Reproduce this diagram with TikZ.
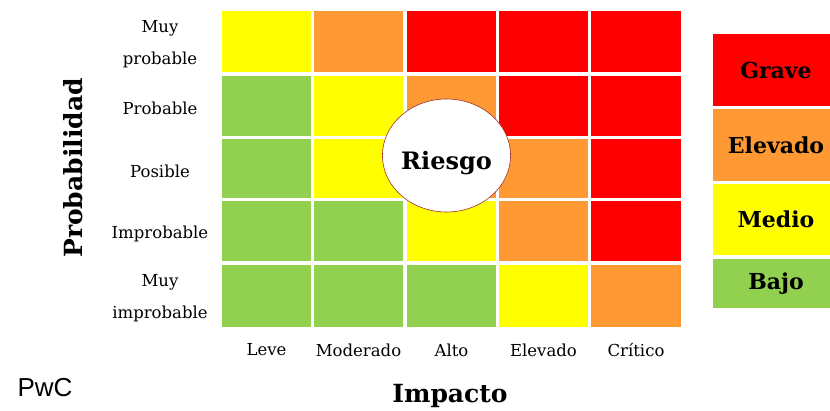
\documentclass[tikz,border=0pt]{standalone}
\usepackage{fontspec}
\setmainfont{DejaVu Serif}
\newfontfamily\pwcfont{Liberation Sans}
\usetikzlibrary{shapes.geometric}
\definecolor{cY}{HTML}{FFFF00}
\definecolor{cO}{HTML}{FF9933}
\definecolor{cR}{HTML}{FF0000}
\definecolor{cG}{HTML}{92D050}
\definecolor{rborder}{HTML}{A03030}
\begin{document}
\begin{tikzpicture}[x=1pt,y=-1pt,
  cell/.style={anchor=north west,inner sep=0pt,outer sep=0pt,draw=none},
  lbl/.style={font=\fontsize{16.5}{32}\selectfont,align=center,inner sep=0pt},
  leg/.style={anchor=north west,inner sep=0pt,outer sep=0pt,draw=none,minimum width=126pt,font=\bfseries\fontsize{22}{24}\selectfont,text=black},
  axis/.style={font=\bfseries\fontsize{25}{28}\selectfont,inner sep=0pt}]
\useasboundingbox (0,0) rectangle (830,411);
\foreach \r/\y/\h/\cl in {1/11/61/{cY,cO,cR,cR,cR},2/76/60/{cG,cY,cO,cR,cR},3/139/59/{cG,cY,cO,cO,cR},4/201/60/{cG,cG,cY,cO,cR},5/265/62/{cG,cG,cG,cY,cO}}{
  \foreach \fc [count=\c] in \cl {
    \pgfmathsetmacro\xx{{222,314,407,499,591}[\c-1]}
    \pgfmathsetmacro\ww{{89,89,89,89,90}[\c-1]}
    \node[cell,fill=\fc,minimum width=\ww pt,minimum height=\h pt] (c\r\c) at (\xx,\y) {};
  }
}
% risk circle
\node[ellipse,draw=rborder,line width=0.6pt,fill=white,minimum width=127pt,minimum height=113pt,inner sep=0pt,font=\bfseries\fontsize{24}{26}\selectfont] (riesgo) at (446.5,155.5) {\raisebox{-14pt}[0pt][0pt]{Riesgo}};
% row labels
\node[lbl] (l1) at (160,44) {Muy\\probable};
\node[lbl] (l2) at (160,108) {Probable};
\node[lbl] (l3) at (160,171) {Posible};
\node[lbl] (l4) at (160,234) {Improbable};
\node[lbl] (l5) at (160,298) {Muy\\improbable};
% column labels
\foreach \c/\t in {1/Leve,2/Moderado,3/Alto,4/Elevado,5/Crítico}{
  \node[lbl] (k\c) at ([yshift=-23pt]c5\c.south) {\t};
}
% axis titles
\node[axis,rotate=90] (prob) at (73,168) {Probabilidad};
\node[axis] (imp) at (450,396) {Impacto};
\node[font=\pwcfont\fontsize{26}{28}\selectfont,inner sep=0pt] (pwc) at (45,387.5) {PwC};
% legend
\node[leg,fill=cR,minimum height=72pt] (g1) at (713,34) {Grave};
\node[leg,fill=cO,minimum height=72pt] (g2) at (713,109) {Elevado};
\node[leg,fill=cY,minimum height=71pt] (g3) at (713,184) {Medio};
\node[leg,fill=cG,minimum height=49pt] (g4) at (713,259) {Bajo};
\end{tikzpicture}
\end{document}
